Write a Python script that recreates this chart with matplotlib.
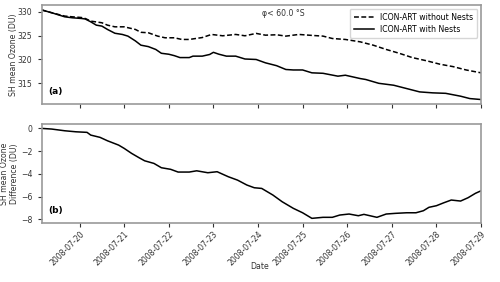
import numpy as np
import pandas as pd
import matplotlib
matplotlib.use("Agg")
import matplotlib.pyplot as plt
import matplotlib.dates as mdates

# hours since 2008-07-19 00:00
t_without = [3.5, 9, 16, 20, 25, 27, 30, 36, 39, 43, 48, 54, 57, 61, 66, 70, 75, 79, 83, 90, 95, 101,
             108, 113, 119, 124, 130, 135, 142, 149, 155, 160, 167, 175, 182, 189, 196, 203, 211,
             218, 225, 232, 240]
o3_without = [330.4, 329.8, 329.1, 328.95, 328.8, 328.6, 328.05, 327.7, 327.2, 326.85, 326.85, 326.3,
              325.7, 325.6, 324.9, 324.55, 324.55, 324.2, 324.2, 324.6, 325.25, 324.97, 325.25,
              324.97, 325.47, 325.1, 325.18, 324.9, 325.25, 325.05, 324.9, 324.4, 324.2, 323.7,
              323.0, 322.1, 321.3, 320.4, 319.7, 319.0, 318.5, 317.8, 317.2]

t_with = [3.5, 9, 16, 20, 25, 27, 30, 33, 36, 39, 43, 47, 50, 54, 57, 61, 65, 68, 72, 75, 78, 83, 85,
          90, 94, 96, 99, 103, 108, 113, 119, 124, 130, 135, 139, 144, 149, 155, 163, 167, 175, 178,
          185, 193, 200, 207, 214, 221, 229, 234, 240]
o3_with = [330.4, 329.8, 328.95, 328.75, 328.6, 328.5, 327.9, 327.2, 327.0, 326.3, 325.5, 325.25,
           324.9, 323.9, 323.0, 322.7, 322.1, 321.3, 321.1, 320.8, 320.4, 320.4, 320.7, 320.7,
           321.05, 321.5, 321.1, 320.7, 320.7, 320.1, 320.0, 319.3, 318.7, 317.9, 317.8, 317.8,
           317.2, 317.1, 316.5, 316.7, 316.0, 315.8, 315.0, 314.6, 313.9, 313.2, 313.0, 312.9,
           312.3, 311.8, 311.6]

t_diff = [3.5, 9, 16, 22, 28, 30, 35, 39, 45, 48, 52, 56, 59, 64, 68, 73, 77, 83, 87, 93, 98, 104,
          109, 114, 118, 122, 128, 133, 139, 144, 149, 155, 160, 164, 169, 174, 177, 184, 189, 194,
          200, 205, 209, 212, 216, 220, 224, 229, 233, 237, 240]
o3_diff = [0.0, -0.06, -0.21, -0.3, -0.35, -0.59, -0.79, -1.09, -1.47, -1.76, -2.2, -2.58, -2.85,
           -3.08, -3.46, -3.6, -3.84, -3.84, -3.73, -3.9, -3.81, -4.25, -4.55, -4.98, -5.22, -5.28,
           -5.86, -6.45, -7.03, -7.42, -7.91, -7.82, -7.82, -7.62, -7.53, -7.68, -7.56, -7.82,
           -7.53, -7.47, -7.42, -7.42, -7.24, -6.94, -6.8, -6.54, -6.3, -6.39, -6.1, -5.71, -5.49]

tick_days = ["2008-07-20", "2008-07-21", "2008-07-22", "2008-07-23", "2008-07-24",
             "2008-07-25", "2008-07-26", "2008-07-27", "2008-07-28", "2008-07-29"]

t0 = pd.Timestamp("2008-07-19 00:00")
def to_dt(hours):
    return [t0 + pd.Timedelta(hours=h) for h in hours]

plt.rcParams['font.family'] = ['DejaVu Sans']
fs = 5.6
spine_col = '#999999'
txt_col = '#333333'

fig = plt.figure(figsize=(5.0, 2.82), dpi=100)
ax1 = fig.add_axes([0.083, 0.631, 0.879, 0.352])
ax2 = fig.add_axes([0.083, 0.210, 0.879, 0.350])

ax1.plot(to_dt(t_without), o3_without, color='black', lw=1.1, ls=(0, (3.2, 1.6)), label='ICON-ART without Nests')
ax1.plot(to_dt(t_with), o3_with, color='black', lw=1.1, label='ICON-ART with Nests')
ax2.plot(to_dt(t_diff), o3_diff, color='black', lw=1.1)

xmin = t0 + pd.Timedelta(hours=3.5)
xmax = t0 + pd.Timedelta(hours=240)
ticks = [pd.Timestamp(d) for d in tick_days]
for ax in (ax1, ax2):
    ax.set_xlim(xmin, xmax)
    ax.set_xticks(ticks)
    for s in ax.spines.values():
        s.set_color(spine_col)
        s.set_linewidth(1.2)
    ax.tick_params(labelsize=fs, length=3, width=0.8, color=txt_col, colors=txt_col)

ax1.set_xticklabels([])
ax2.set_xticklabels(tick_days, rotation=45, ha='right', rotation_mode='anchor')
ax2.tick_params(axis='x', pad=2)

ax1.set_ylim(310.65, 331.47)
ax1.set_yticks([315, 320, 325, 330])
ax2.set_ylim(-8.30, 0.378)
ax2.set_yticks([0, -2, -4, -6, -8])
ax2.set_yticklabels(['0', '\u22122', '\u22124', '\u22126', '\u22128'])

ax1.set_ylabel('SH mean Ozone (DU)', fontsize=fs, color=txt_col)
ax1.yaxis.set_label_coords(-0.0545, 0.5)
ax2.set_ylabel('SH mean Ozone\nDifference (DU)', fontsize=fs, color=txt_col, linespacing=1.1)
ax2.yaxis.set_label_coords(-0.051, 0.5)
ax2.set_xlabel('Date', fontsize=fs, color=txt_col)
ax2.xaxis.set_label_coords(0.497, -0.395)

ax1.text(0.015, 0.1, '(a)', transform=ax1.transAxes, fontsize=6.5, fontweight='bold')
ax2.text(0.015, 0.1, '(b)', transform=ax2.transAxes, fontsize=6.5, fontweight='bold')
ax1.text(0.502, 0.915, '\u03c6< 60.0 \u00b0S', transform=ax1.transAxes, fontsize=fs,
         color=txt_col, va='center', ha='left')

leg = ax1.legend(loc='upper right', fontsize=fs, frameon=True, handlelength=2.6,
                 borderpad=0.5, labelspacing=0.45, fancybox=True)
leg.get_frame().set_edgecolor('#cccccc')

fig.savefig('out.png', dpi=100)
